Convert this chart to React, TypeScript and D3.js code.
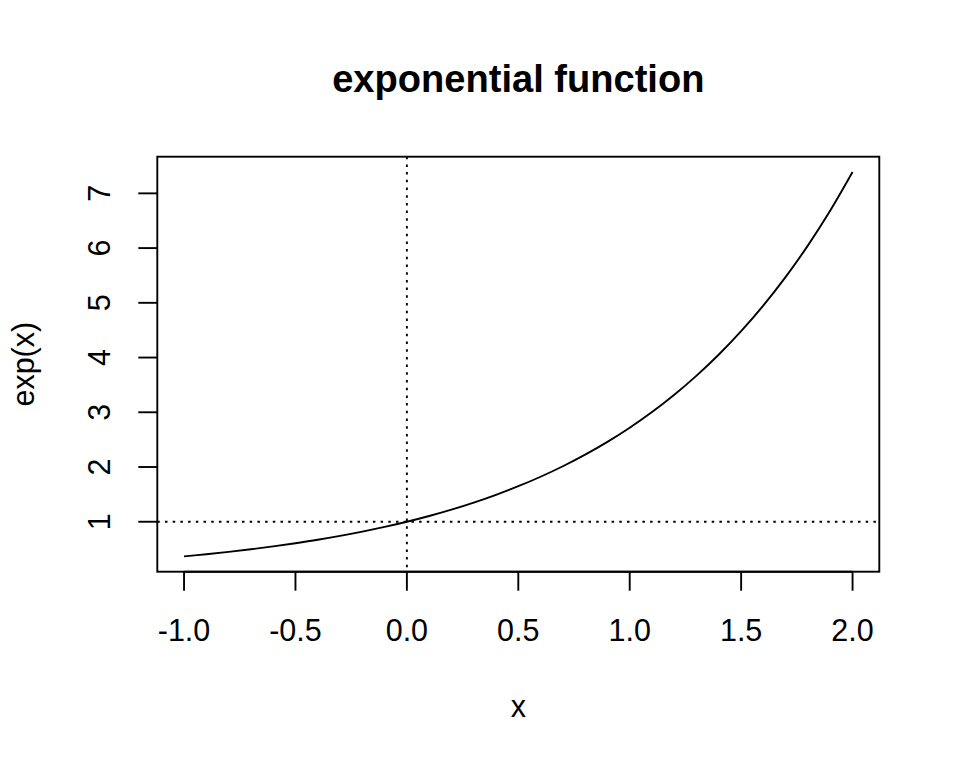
import React from "react";
import * as d3 from "d3";

const xValues = [-1.0, -0.9, -0.8, -0.7, -0.6, -0.5, -0.4, -0.3, -0.2, -0.1, 0.0, 0.1, 0.2, 0.3, 0.4, 0.5, 0.6, 0.7, 0.8, 0.9, 1.0, 1.1, 1.2, 1.3, 1.4, 1.5, 1.6, 1.7, 1.8, 1.9, 2.0];
const yValues = [0.368, 0.407, 0.449, 0.497, 0.549, 0.607, 0.670, 0.741, 0.819, 0.905, 1.0, 1.105, 1.221, 1.350, 1.492, 1.649, 1.822, 2.014, 2.226, 2.460, 2.718, 3.004, 3.320, 3.669, 4.055, 4.482, 4.953, 5.474, 6.050, 6.686, 7.389];
const xTicks = [-1.0, -0.5, 0.0, 0.5, 1.0, 1.5, 2.0];
const yTicks = [1, 2, 3, 4, 5, 6, 7];
const refX = 0;
const refY = 1;
const title = "exponential function";
const xLabel = "x";
const yLabel = "exp(x)";

export default function App() {
  const W = 960, H = 768;
  const left = 157.3, right = 879.3, top = 156.7, bottom = 571.7;
  const xMin = -1, xMax = 2;
  const yMin = d3.min(yValues)!, yMax = d3.max(yValues)!;
  const xPad = (xMax - xMin) * 0.04;
  const yPad = (yMax - yMin) * 0.04;
  const x = d3.scaleLinear().domain([xMin - xPad, xMax + xPad]).range([left, right]);
  const y = d3.scaleLinear().domain([yMin - yPad, yMax + yPad]).range([bottom, top]);
  const pts = xValues.map((v, i) => [v, yValues[i]] as [number, number]);
  const line = d3.line<[number, number]>().x(d => x(d[0])).y(d => y(d[1])).curve(d3.curveCatmullRom.alpha(0.5));
  const font = "'Liberation Sans', Arial, Helvetica, sans-serif";
  const tickLen = 19;
  const fs = 30.5;
  return (
    <svg width={W} height={H} style={{ position: "absolute", left: 0, top: 0, background: "#fff" }} fontFamily={font}>
      <rect x={0} y={0} width={W} height={H} fill="#fff" />
      <text x={(left + right) / 2} y={92} textAnchor="middle" fontWeight="bold" fontSize={38.1}>{title}</text>
      <path d={line(pts) || ""} fill="none" stroke="#000" strokeWidth={1.9} />
      <line x1={x(refX)} x2={x(refX)} y1={top} y2={bottom} stroke="#000" strokeWidth={1.9} strokeDasharray="2.5,5.2" />
      <line x1={left} x2={right} y1={y(refY)} y2={y(refY)} stroke="#000" strokeWidth={1.9} strokeDasharray="2.5,5.2" />
      <rect x={left} y={top} width={right - left} height={bottom - top} fill="none" stroke="#000" strokeWidth={1.9} />
      <line x1={x(xTicks[0])} x2={x(xTicks[xTicks.length - 1])} y1={bottom} y2={bottom} stroke="#000" strokeWidth={1.9} />
      {xTicks.map(t => (
        <g key={"x" + t}>
          <line x1={x(t)} x2={x(t)} y1={bottom} y2={bottom + tickLen} stroke="#000" strokeWidth={1.9} />
          <text x={x(t)} y={641} textAnchor="middle" fontSize={fs}>{t.toFixed(1)}</text>
        </g>
      ))}
      {yTicks.map(t => (
        <g key={"y" + t}>
          <line x1={left} x2={left - tickLen} y1={y(t)} y2={y(t)} stroke="#000" strokeWidth={1.9} />
          <text transform={`translate(110,${y(t)}) rotate(-90)`} textAnchor="middle" fontSize={fs}>{t}</text>
        </g>
      ))}
      <text x={(left + right) / 2} y={717} textAnchor="middle" fontSize={fs}>{xLabel}</text>
      <text transform={`translate(34,${(top + bottom) / 2}) rotate(-90)`} textAnchor="middle" fontSize={fs}>{yLabel}</text>
    </svg>
  );
}
